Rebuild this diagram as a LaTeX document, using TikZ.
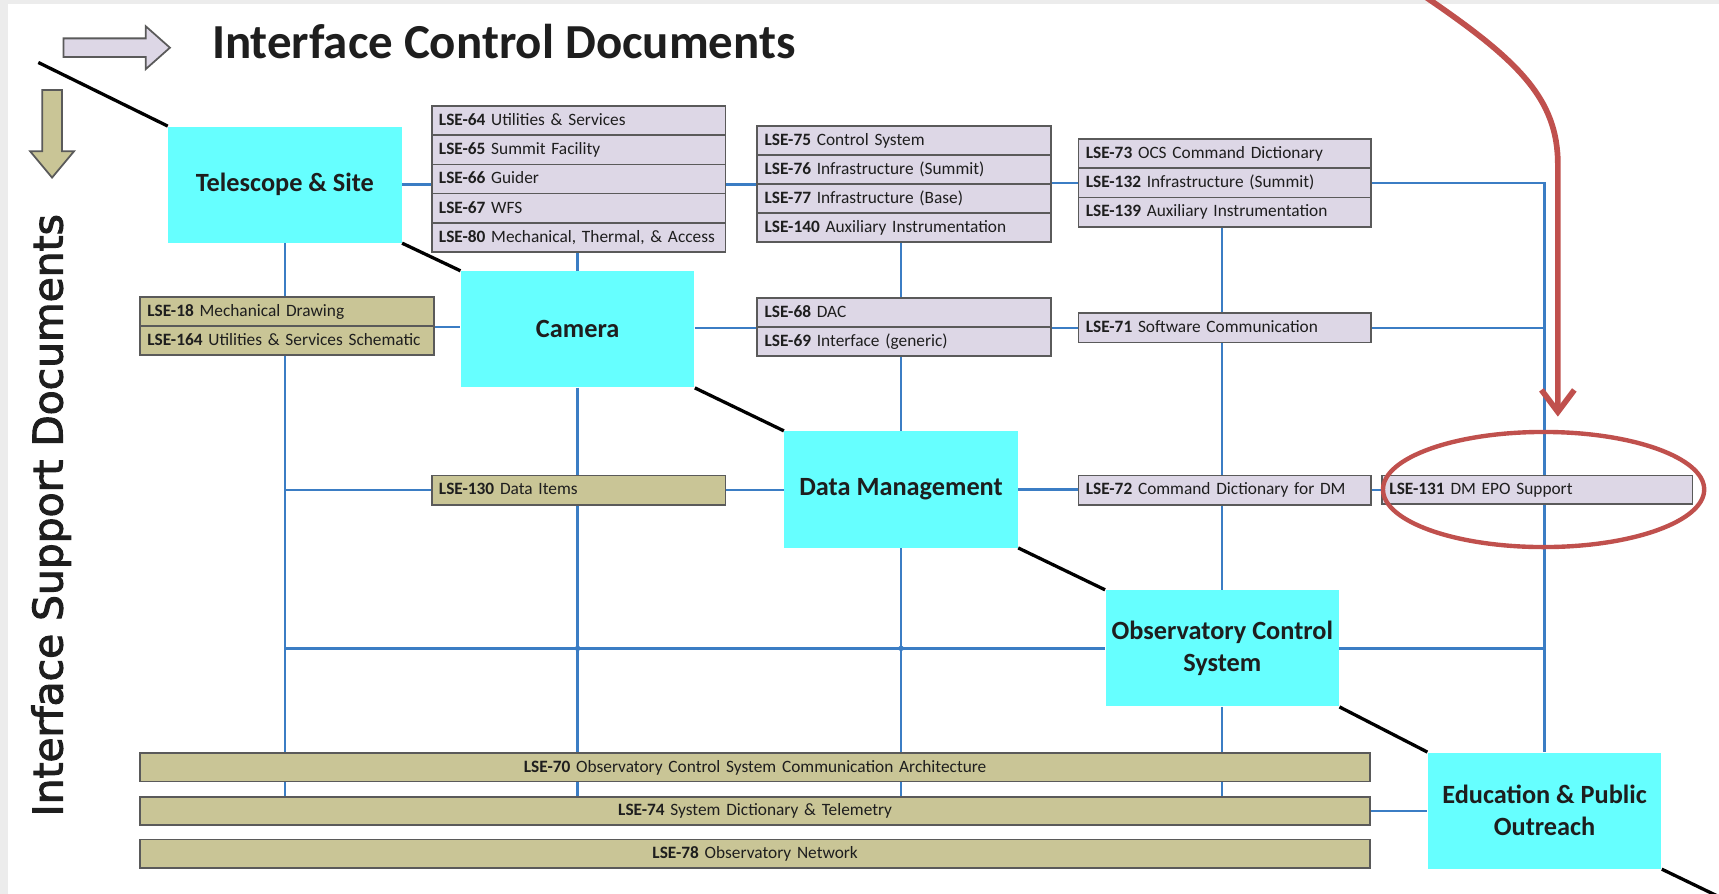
\documentclass[tikz,border=0pt]{standalone}
\usepackage{fontspec}
\setmainfont{Carlito}
\newfontfamily\dejavu[FakeBold=2.5]{DejaVu Sans}
\usetikzlibrary{arrows.meta}
\definecolor{cyanbox}{HTML}{66FFFF}
\definecolor{lavbox}{HTML}{DDD7E6}
\definecolor{olivebox}{HTML}{C9C596}
\definecolor{boxline}{HTML}{5A5A5A}
\definecolor{blueln}{HTML}{3B7DC4}
\definecolor{redln}{HTML}{C0504D}
\definecolor{txt}{HTML}{1E1E1E}
\definecolor{framegray}{HTML}{ECECEC}
\pgfdeclarelayer{back}
\pgfdeclarelayer{lines}
\pgfsetlayers{back,lines,main}
\newcommand{\lsel}[2]{\mbox{\textbf{#1} #2}}
\begin{document}
\begin{tikzpicture}[x=0.5pt,y=-0.5pt,
  big/.style={fill=cyanbox, draw=none, minimum width=106.5pt, minimum height=53pt,
    anchor=north west, inner sep=0pt, align=center, text=txt,
    font=\bfseries\fontsize{12}{14.5}\selectfont},
  lbl/.style={draw=boxline, line width=0.8pt, anchor=north west, inner xsep=3.3pt,
    inner ysep=0pt, align=left, text=txt, text height=6pt, text depth=1.6pt,
    font=\fontsize{7.9}{9}\selectfont},
  lav/.style={lbl, fill=lavbox, text width=127.4pt, minimum height=13.3pt},
  lavC/.style={lbl, fill=lavbox, text width=126.9pt, minimum height=13.3pt},
  lavD/.style={lbl, fill=lavbox, text width=134.9pt, minimum height=13pt},
  olv/.style={lbl, fill=olivebox, text width=127.4pt, minimum height=13.3pt},
  wide/.style={lbl, fill=olivebox, align=center, text width=554.4pt, minimum height=13pt},
  conn/.style={draw=blueln, line width=1.1pt},
  diag/.style={draw=black, line width=1.5pt},
]
\begin{pgfonlayer}{back}
\fill[framegray] (0,0) rectangle (1568,815);
\fill[white] (7,4) rectangle (1568,815);
\end{pgfonlayer}
\useasboundingbox (0,0) rectangle (1568,815);

% headings
\node[anchor=base west, inner sep=0pt, text=txt, font=\bfseries\fontsize{22.3}{26}\selectfont] (title) at (193,53) {Interface Control Documents};
\node[rotate=90, anchor=base, inner sep=0pt, text=txt, font=\dejavu\fontsize{18.6}{22}\selectfont] (isd) at (57,470) {Interface Support Documents};
\draw[draw=boxline, line width=0.8pt, fill=lavbox] (58,35) -- (133,35) -- (133,24) -- (155,43.5) -- (133,63) -- (133,52) -- (58,52) -- cycle;
\draw[draw=boxline, line width=0.8pt, fill=olivebox] (38.5,82) -- (56.5,82) -- (56.5,138) -- (67.5,138) -- (47.5,162) -- (27.5,138) -- (38.5,138) -- cycle;

% main subsystem boxes
\node[big] (ts) at (153,115) {Telescope \& Site};
\node[big] (cam) at (420,247) {Camera};
\node[big] (dm) at (715,393) {Data Management};
\node[big] (ocs) at (1008,538) {Observatory Control\\System};
\node[big] (epo) at (1302,686) {Education \& Public\\Outreach};

% stack 1
\node[lav] (s1a) at (393,96) {\lsel{LSE-64}{Utilities \& Services}};
\node[lav] (s1b) at (393,122.6) {\lsel{LSE-65}{Summit Facility}};
\node[lav] (s1c) at (393,149.2) {\lsel{LSE-66}{Guider}};
\node[lav] (s1d) at (393,175.8) {\lsel{LSE-67}{WFS}};
\node[lav] (s1e) at (393,202.4) {\lsel{LSE-80}{Mechanical, Thermal, \& Access}};
% stack 2
\node[lav] (s2a) at (690,114) {\lsel{LSE-75}{Control System}};
\node[lav] (s2b) at (690,140.5) {\lsel{LSE-76}{Infrastructure (Summit)}};
\node[lav] (s2c) at (690,167) {\lsel{LSE-77}{Infrastructure (Base)}};
\node[lav] (s2d) at (690,193.5) {\lsel{LSE-140}{Auxiliary Instrumentation}};
% stack 3
\node[lavC] (s3a) at (983,126) {\lsel{LSE-73}{OCS Command Dictionary}};
\node[lavC] (s3b) at (983,152.7) {\lsel{LSE-132}{Infrastructure (Summit)}};
\node[lavC] (s3c) at (983,179.4) {\lsel{LSE-139}{Auxiliary Instrumentation}};
% stack 4
\node[lav] (s4a) at (690,271) {\lsel{LSE-68}{DAC}};
\node[lav] (s4b) at (690,297.5) {\lsel{LSE-69}{Interface (generic)}};
% singles
\node[lavC] (l71) at (983,285) {\lsel{LSE-71}{Software Communication}};
\node[lavC] (l72) at (983,433) {\lsel{LSE-72}{Command Dictionary for DM}};
\node[lavD] (l131) at (1260,433) {\lsel{LSE-131}{DM EPO Support}};
% olive
\node[olv] (s18) at (127,270) {\lsel{LSE-18}{Mechanical Drawing}};
\node[olv] (s164) at (127,296.5) {\lsel{LSE-164}{Utilities \& Services Schematic}};
\node[olv] (s130) at (393,433) {\lsel{LSE-130}{Data Items}};
\node[wide] (w70) at (127,686) {\lsel{LSE-70}{Observatory Control System Communication Architecture}};
\node[wide] (w74) at (127,726) {\lsel{LSE-74}{System Dictionary \& Telemetry}};
\node[wide] (w78) at (127,765) {\lsel{LSE-78}{Observatory Network}};

% blue connectors
\begin{pgfonlayer}{lines}
\draw[conn] (ts.east) -- (ts.east -| s1a.west);
\draw[conn] (ts.east -| s1a.east) -- (ts.east -| s2a.west);
\draw[conn] (s2c.north east) -- (s2c.north east -| s3a.west);
\draw[conn] (s2c.north east -| s3a.east) -- (s2c.north east -| epo.north) -- (epo.north);
\draw[conn] (ts.south) -- (ts.south |- w74.north);
\draw[conn] (ts.south |- s130.west) -- (s130.west);
\draw[conn] (s130.east) -- (s130.east -| dm.west);
\draw[conn] (s1e.south -| cam.north) -- (cam.north);
\draw[conn] (cam.south) -- (cam.south |- w74.north);
\draw[conn] (dm.north |- s2d.south) -- (dm.north |- s4a.north);
\draw[conn] (dm.north |- s4b.south) -- (dm.north);
\draw[conn] (dm.south) -- (dm.south |- w74.north);
\draw[conn] (ocs.north |- s3c.south) -- (ocs.north |- l71.north);
\draw[conn] (ocs.north |- l71.south) -- (ocs.north |- l72.north);
\draw[conn] (ocs.north |- l72.south) -- (ocs.north);
\draw[conn] (ocs.south) -- (ocs.south |- w74.north);
\draw[conn] (s18.south east) -- (s18.south east -| cam.west);
\draw[conn] (s4a.south west -| cam.east) -- (s4a.south west);
\draw[conn] (s4a.south east) -- (s4a.south east -| l71.west);
\draw[conn] (l71.east) -- (l71.east -| epo.north);
\draw[conn] (ts.south |- ocs.west) -- (ocs.west);
\draw[conn] (ocs.east) -- (ocs.east -| epo.north);
\draw[conn] (dm.east) -- (dm.east -| l72.west);
\draw[conn] (l72.east) -- (l72.east -| l131.west);
\draw[conn] (w74.east) -- (w74.east -| epo.west);
\fill[blueln] (cam.south |- ocs.west) circle (2.5);
\fill[blueln] (dm.south |- ocs.west) circle (2.5);
\end{pgfonlayer}

% black diagonal
\coordinate (d0) at (35,57);
\coordinate (d6) at (1566,817);
\draw[diag] (d0) -- (ts.north west);
\draw[diag] (ts.south east) -- (cam.north west);
\draw[diag] (cam.south east) -- (dm.north west);
\draw[diag] (dm.south east) -- (ocs.north west);
\draw[diag] (ocs.south east) -- (epo.north west);
\draw[diag] (epo.south east) -- (d6);

% red annotation
\coordinate (r0) at (1300,-3);
\coordinate (r1) at (1421,380);
\draw[redln, line width=2.6pt, -{Straight Barb[length=10pt,width=15pt]}] (r0) .. controls (1385,55) and (1421,90) .. (1421,150) -- (r1);
\draw[redln, line width=2pt] (1408,446.5) ellipse [x radius=146.5, y radius=52.5];
\end{tikzpicture}
\end{document}
